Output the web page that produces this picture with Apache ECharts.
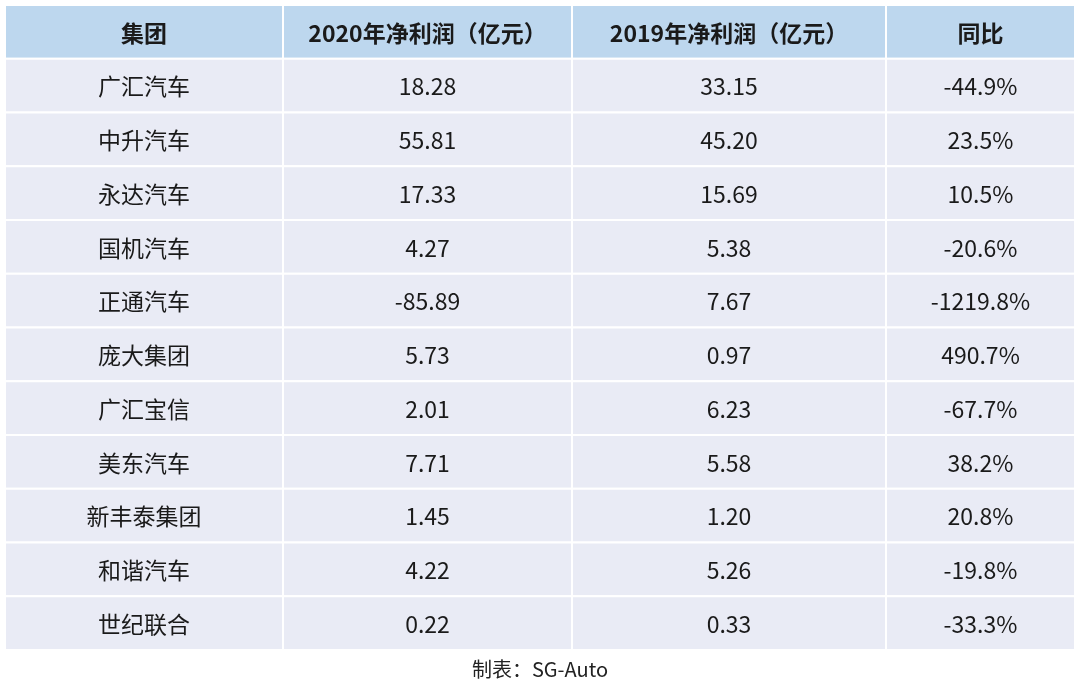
<!DOCTYPE html>
<html>
<head>
<meta charset="utf-8">
<script src="https://cdn.jsdelivr.net/npm/echarts@6/dist/echarts.min.js"></script>
<style>
  html, body { margin: 0; padding: 0; background: #fff; }
  #chart { width: 1080px; height: 688px; }
</style>
</head>
<body>
<div id="chart"></div>
<script>
// 表头与数据
const headers = ["集团", "2020年净利润（亿元）", "2019年净利润（亿元）", "同比"];
const groups = ["广汇汽车", "中升汽车", "永达汽车", "国机汽车", "正通汽车", "庞大集团", "广汇宝信", "美东汽车", "新丰泰集团", "和谐汽车", "世纪联合"];
const profit2020 = ["18.28", "55.81", "17.33", "4.27", "-85.89", "5.73", "2.01", "7.71", "1.45", "4.22", "0.22"];
const profit2019 = ["33.15", "45.20", "15.69", "5.38", "7.67", "0.97", "6.23", "5.58", "1.20", "5.26", "0.33"];
const yoy = ["-44.9%", "23.5%", "10.5%", "-20.6%", "-1219.8%", "490.7%", "-67.7%", "38.2%", "20.8%", "-19.8%", "-33.3%"];
const footnote = "制表：SG-Auto";

// 列宽（像素）
const colWidths = [278, 289, 314, 189];
const colStarts = [];
let acc = 0;
colWidths.forEach(w => { colStarts.push(acc); acc += w; });
const totalWidth = acc;

const rowNames = ["header"].concat(groups);
const columns = [groups, profit2020, profit2019, yoy];

const cells = [];
headers.forEach((h, c) => cells.push([c, 0, h]));
groups.forEach((g, r) => {
  columns.forEach((col, c) => cells.push([c, r + 1, col[r]]));
});

const chart = echarts.init(document.getElementById("chart"));
const option = {
  backgroundColor: "#ffffff",
  animation: false,
  grid: { left: 5, right: 5, top: 5, bottom: 38 },
  xAxis: { type: "value", min: 0, max: totalWidth, show: false },
  yAxis: { type: "category", data: rowNames, inverse: true, show: false },
  title: {
    text: footnote,
    left: "center",
    top: 654,
    textStyle: { fontSize: 20, fontWeight: "normal", color: "#222", fontFamily: "Noto Sans CJK SC" }
  },
  series: [{
    type: "custom",
    data: cells,
    renderItem: function (params, api) {
      const c = api.value(0);
      const r = api.value(1);
      const text = cells[params.dataIndex][2];
      const p0 = api.coord([colStarts[c], r]);
      const p1 = api.coord([colStarts[c] + colWidths[c], r]);
      const h = api.size([0, 1])[1];
      const x = p0[0], y = p0[1] - h / 2, w = p1[0] - p0[0];
      const isHead = r === 0;
      return {
        type: "group",
        children: [{
          type: "rect",
          shape: { x: x, y: y, width: w, height: h },
          style: { fill: isHead ? "#bdd7ee" : "#e9ebf5", stroke: "#ffffff", lineWidth: 2 }
        }, {
          type: "text",
          style: {
            x: x + w / 2, y: y + h / 2 + 1,
            text: text,
            align: "center", verticalAlign: "middle",
            fontSize: 23,
            fontWeight: isHead ? "bold" : "normal",
            fontFamily: "Noto Sans CJK SC",
            fill: "#1a1a1a"
          }
        }]
      };
    }
  }]
};
chart.setOption(option);
</script>
</body>
</html>
